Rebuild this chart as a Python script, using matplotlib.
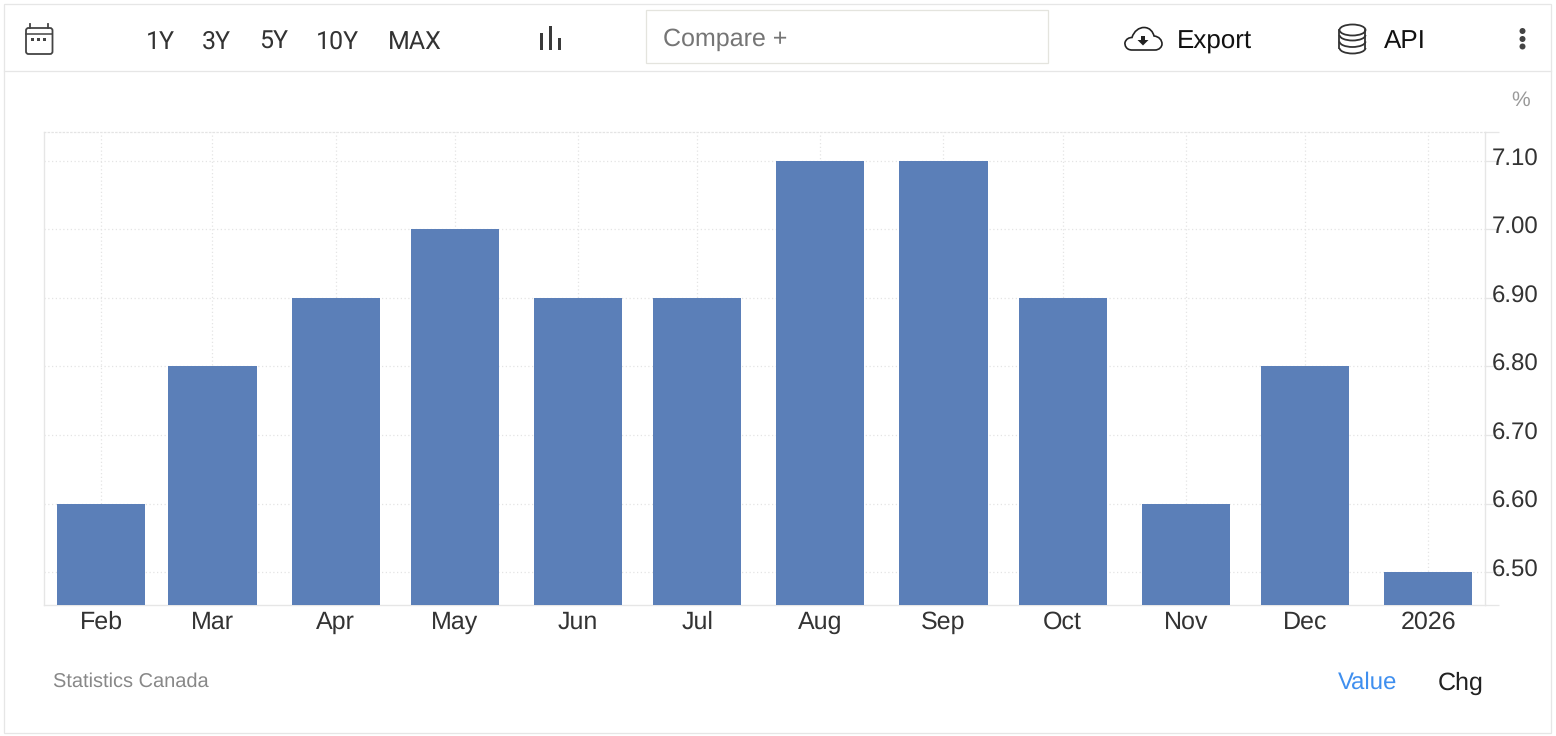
import matplotlib
matplotlib.use("Agg")
import matplotlib.pyplot as plt
import matplotlib.dates as mdates
from matplotlib.patches import Rectangle, FancyBboxPatch, Ellipse, PathPatch, Polygon, Arc
from matplotlib.path import Path
from matplotlib.transforms import ScaledTranslation
from datetime import datetime

# ---- data ----
dates = ["2025-02-01", "2025-03-01", "2025-04-01", "2025-05-01", "2025-06-01", "2025-07-01",
         "2025-08-01", "2025-09-01", "2025-10-01", "2025-11-01", "2025-12-01", "2026-01-01"]
values = [6.6, 6.8, 6.9, 7.0, 6.9, 6.9, 7.1, 7.1, 6.9, 6.6, 6.8, 6.5]
x_labels = ["Feb", "Mar", "Apr", "May", "Jun", "Jul", "Aug", "Sep", "Oct", "Nov", "Dec", "2026"]
y_ticks = [6.5, 6.6, 6.7, 6.8, 6.9, 7.0, 7.1]
y_labels = ["6.50", "6.60", "6.70", "6.80", "6.90", "7.00", "7.10"]
range_buttons = ["1Y", "3Y", "5Y", "10Y", "MAX"]

W, H = 1556, 736
DPI = 100
BAR = "#5b7fb8"
LINE = "#e6e6e6"
px = 72 / DPI  # font points per pixel

plt.rcParams["font.family"] = ["Liberation Sans", "DejaVu Sans"]
plt.rcParams["text.hinting"] = "no_hinting"
plt.rcParams["text.hinting_factor"] = 1
fig = plt.figure(figsize=(W / DPI, H / DPI), dpi=DPI, facecolor="white")

# ---- chart ----
L, R, T, B = 44.2, 1485.2, 131.6, 604.6
ax = fig.add_axes([L / W, 1 - B / H, (R - L) / W, (B - T) / H])
xnum = mdates.date2num([datetime.strptime(d, "%Y-%m-%d") for d in dates])
ax.bar(xnum, values, width=22.2, color=BAR, zorder=3, linewidth=0)
ax.set_xlim(xnum[0] - 14.36, xnum[-1] + 14.36)
ylim = (6.4526, 7.1423)
ax.set_ylim(*ylim)
ax.set_axisbelow(True)
ax.set_xticks(xnum)
ax.set_xticklabels(x_labels, fontsize=25 * px, color="#333333")
ax.tick_params(axis="x", length=0, pad=4.6)
ax.yaxis.tick_right()
ax.set_yticks(y_ticks)
ax.set_yticklabels(y_labels, fontsize=24.5 * px, color="#333333")
ax.set_yticks(list(ylim), minor=True)
ax.tick_params(axis="y", which="both", length=14 * px, width=0.9, color=LINE, pad=-5.3)
shift = ScaledTranslation(0, 4.0 / DPI, fig.dpi_scale_trans)
for lab in ax.get_yticklabels():
    lab.set_transform(lab.get_transform() + shift)
ax.grid(True, which="major", color="#e4e4e4", linestyle=(0, (1, 2)), linewidth=0.9)
for s in ("left", "bottom", "right"):
    ax.spines[s].set_color(LINE)
    ax.spines[s].set_linewidth(1.0)
ax.spines["top"].set_color("#e4e4e4")
ax.spines["top"].set_linestyle((0, (1, 2)))
ax.spines["top"].set_linewidth(0.9)

# ---- overlay in pixel coordinates (page furniture) ----
ov = fig.add_axes([0, 0, 1, 1], zorder=5)
ov.set_xlim(0, W)
ov.set_ylim(H, 0)
ov.axis("off")
ov.patch.set_alpha(0)

ov.add_patch(Rectangle((4, 3.7), 1547.5, 729.5, fill=False, ec=LINE, lw=0.9))
ov.plot([4, 1551.5], [70.7, 70.7], color=LINE, lw=0.9)

def label(x, y, s, size, color="#333333", ha="left", family=None):
    ov.text(x, y, s, fontsize=size * px, color=color, ha=ha, va="center",
            family=family if family else ["Liberation Sans", "DejaVu Sans"])

# range buttons
for x, s in zip([146, 202, 259, 316, 388], range_buttons):
    label(x, 42, s, 25, color="#333333", family="Roboto")

# calendar icon
IC = "#444444"
ov.add_patch(FancyBboxPatch((26, 28), 26.5, 26, boxstyle="round,pad=0,rounding_size=2.5", fill=False, ec=IC, lw=1.3))
ov.plot([26, 52.5], [33.5, 33.5], color=IC, lw=1.1)
ov.plot([30, 30], [23.5, 28], color=IC, lw=1.3)
ov.plot([48, 48], [23.5, 28], color=IC, lw=1.3)
for x in (33, 39, 45):
    ov.add_patch(Rectangle((x - 1.5, 37.5), 3, 3, color=IC, lw=0))

# chart-type icon
for x, top in zip((541.5, 550.5, 559.5), (33, 26, 38)):
    ov.add_patch(Rectangle((x - 1.8, top), 3.6, 50 - top, color="#3a3a3a", lw=0))

# compare box
ov.add_patch(Rectangle((646, 9.8), 402, 53, fill=False, ec="#e4e4de", lw=0.9))
label(663, 39.5, "Compare +", 25.4, color="#757575")

# export cloud icon
cv = [(1132, 50), (1126, 50), (1124.5, 45), (1125, 42.5), (1126, 39), (1129, 37.5), (1132, 37.5),
      (1134, 31), (1139, 27.5), (1144, 27.5), (1150, 27.5), (1153, 32), (1154, 36),
      (1159, 36.5), (1162, 40), (1162, 44), (1162, 47), (1159, 50), (1155, 50), (1132, 50)]
cc = [Path.MOVETO] + [Path.CURVE4] * 18 + [Path.CLOSEPOLY]
ov.add_patch(PathPatch(Path(cv, cc), fill=False, ec="#222222", lw=1.2))
ov.add_patch(Rectangle((1141, 36), 4, 5, color="#222222", lw=0))
ov.add_patch(Polygon([(1137.5, 40), (1148.5, 40), (1143, 45.5)], closed=True, color="#222222", lw=0))
label(1177, 42, "Export", 26, color="#111111")

# API database icon
DB = "#333333"
ov.add_patch(Ellipse((1352.5, 30), 26, 11, fill=False, ec=DB, lw=1.3))
ov.plot([1339.5, 1339.5], [30, 48], color=DB, lw=1.3)
ov.plot([1365.5, 1365.5], [30, 48], color=DB, lw=1.3)
for yy in (35, 41.5, 48):
    ov.add_patch(Arc((1352.5, yy), 26, 11, theta1=0, theta2=180, ec=DB, lw=1.3))
label(1384, 41.5, "API", 26, color="#111111")

# more menu
for y in (31, 39, 46.5):
    ov.add_patch(Ellipse((1522.5, y), 6, 6, color="#444444", lw=0))

# annotations
label(1520.5, 100, "%", 21, color="#999999", ha="center")
label(53, 682, "Statistics Canada", 19.7, color="#888888")
label(1338, 683, "Value", 24.4, color="#3f8fef")
label(1438, 683, "Chg", 25, color="#222222")

fig.savefig("out.png", dpi=DPI, facecolor="white")
